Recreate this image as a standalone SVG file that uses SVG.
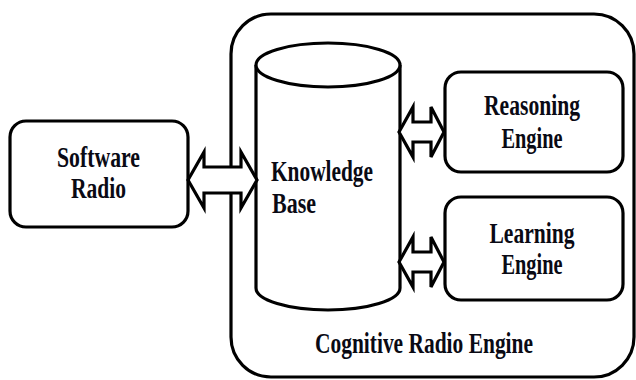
<svg xmlns="http://www.w3.org/2000/svg" width="636" height="380" viewBox="0 0 636 380">
  <style>
    .box { fill: #fff; stroke: #000; stroke-width: 3.2; }
    .arrow { fill: #fff; stroke: #000; stroke-width: 3.2; stroke-linejoin: miter; }
    .label { font-family: 'Liberation Serif', 'DejaVu Serif', serif; font-weight: 700; font-size: 29px; fill: #0a0a14; }
  </style>
  <rect width="636" height="380" fill="#fff"/>

  <!-- container: cognitive radio engine -->
  <g id="cognitive-radio-engine">
    <rect class="box" x="231" y="14" width="403" height="363" rx="40" ry="40"/>
    <text class="label" x="424" y="353" text-anchor="middle" textLength="218" lengthAdjust="spacingAndGlyphs">Cognitive Radio Engine</text>
  </g>

  <g id="software-radio">
    <rect class="box" x="10" y="121" width="178" height="106" rx="16" ry="16"/>
    <text class="label" x="98.5" y="167" text-anchor="middle" textLength="83" lengthAdjust="spacingAndGlyphs">Software</text>
    <text class="label" x="98.5" y="198" text-anchor="middle" textLength="55" lengthAdjust="spacingAndGlyphs">Radio</text>
  </g>

  <g id="knowledge-base">
    <path class="box" d="M256,65 L256,288 A72,22 0 0 0 400,288 L400,65"/>
    <ellipse class="box" cx="328" cy="65" rx="72" ry="22"/>
    <text class="label" x="271" y="181" textLength="102" lengthAdjust="spacingAndGlyphs">Knowledge</text>
    <text class="label" x="272" y="213" textLength="44" lengthAdjust="spacingAndGlyphs">Base</text>
  </g>

  <g id="reasoning-engine">
    <rect class="box" x="445" y="72" width="178" height="100" rx="16" ry="16"/>
    <text class="label" x="532" y="115" text-anchor="middle" textLength="96" lengthAdjust="spacingAndGlyphs">Reasoning</text>
    <text class="label" x="532" y="148" text-anchor="middle" textLength="61" lengthAdjust="spacingAndGlyphs">Engine</text>
  </g>

  <g id="learning-engine">
    <rect class="box" x="445" y="197" width="178" height="103" rx="16" ry="16"/>
    <text class="label" x="532" y="243" text-anchor="middle" textLength="85" lengthAdjust="spacingAndGlyphs">Learning</text>
    <text class="label" x="532" y="274" text-anchor="middle" textLength="61" lengthAdjust="spacingAndGlyphs">Engine</text>
  </g>

  <!-- block double-headed arrows -->
  <g id="connectors">
    <path class="arrow" d="M188,180 L204,152 L204,167 L241,167 L241,152 L257,180 L241,208 L241,193 L204,193 L204,208 Z"/>
    <path class="arrow" d="M399,132 L413,107 L413,122 L431,122 L431,107 L444,132 L431,157 L431,142 L413,142 L413,157 Z"/>
    <path class="arrow" d="M399,262 L413,237 L413,252 L431,252 L431,237 L444,262 L431,287 L431,272 L413,272 L413,287 Z"/>
  </g>
</svg>
